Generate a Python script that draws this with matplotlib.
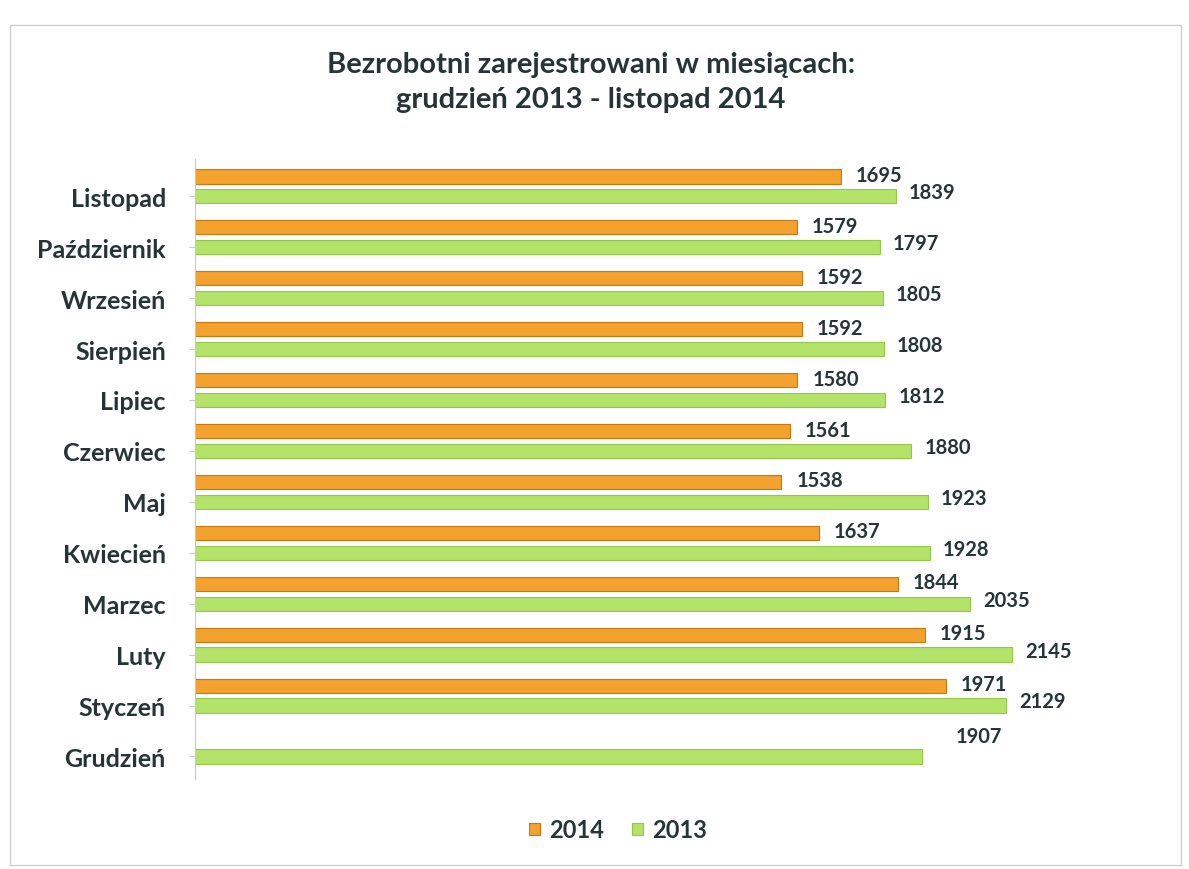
import matplotlib.pyplot as plt
import numpy as np

plt.rcParams['font.family'] = ['Lato', 'DejaVu Sans']

months = ['Grudzień', 'Styczeń', 'Luty', 'Marzec', 'Kwiecień', 'Maj',
          'Czerwiec', 'Lipiec', 'Sierpień', 'Wrzesień', 'Październik', 'Listopad']
values_2014 = [np.nan, 1971, 1915, 1844, 1637, 1538, 1561, 1580, 1592, 1592, 1579, 1695]
values_2013 = [1907, 2129, 2145, 2035, 1928, 1923, 1880, 1812, 1808, 1805, 1797, 1839]

orange = '#F3A22E'
green = '#B4E36A'
text_color = '#253535'

fig = plt.figure(figsize=(11.89, 8.7), dpi=100)
ax = fig.add_axes([0.164, 0.103, 0.769, 0.713])

y = np.arange(len(months))
offset = 0.39
h = 0.28

ax.barh(y + offset, values_2014, height=h, color=orange, edgecolor='#C77812',
        linewidth=0.8, label='2014')
ax.barh(y, values_2013, height=h, color=green, edgecolor='#94C84A',
        linewidth=0.8, label='2013')

for i in range(len(months)):
    if not np.isnan(values_2014[i]):
        ax.text(values_2014[i] + 40, y[i] + offset + 0.03, f'{values_2014[i]:.0f}',
                fontsize=14.5, fontweight='bold', color=text_color, va='center')
    if i == 0:
        ax.text(values_2013[i] + 90, y[i] + 0.4, f'{values_2013[i]}',
                fontsize=14.5, fontweight='bold', color=text_color, va='center')
    else:
        ax.text(values_2013[i] + 35, y[i] + 0.08, f'{values_2013[i]}',
                fontsize=14.5, fontweight='bold', color=text_color, va='center')

ax.set_xlim(0, 2400)
ax.set_ylim(-0.45, 11.73)
ax.set_yticks(y)
ax.set_yticklabels(months, fontsize=18, fontweight='bold', color=text_color)
ax.set_xticks([])
ax.tick_params(axis='y', length=4, color='#C8C8C8', pad=17)
for s in ['top', 'right', 'bottom']:
    ax.spines[s].set_visible(False)
ax.spines['left'].set_color('#C8C8C8')

fig.text(0.497, 0.925, 'Bezrobotni zarejestrowani w miesiącach:', ha='center',
         va='center', fontsize=21, fontweight='bold', color=text_color)
fig.text(0.497, 0.885, 'grudzień 2013 - listopad 2014', ha='center',
         va='center', fontsize=21, fontweight='bold', color=text_color)

handles, labels = ax.get_legend_handles_labels()
leg = fig.legend(handles, labels, loc='center', bbox_to_anchor=(0.52, 0.045), ncol=2,
                 frameon=False, handlelength=0.45, handleheight=0.45,
                 columnspacing=1.2, handletextpad=0.4,
                 prop={'weight': 'bold', 'size': 17})
for t in leg.get_texts():
    t.set_color(text_color)

frame = plt.Rectangle((0.008, 0.005), 0.985, 0.965, transform=fig.transFigure,
                      fill=False, edgecolor='#D0D0D0', linewidth=1)
fig.patches.append(frame)

fig.savefig('out.png', dpi=100)
